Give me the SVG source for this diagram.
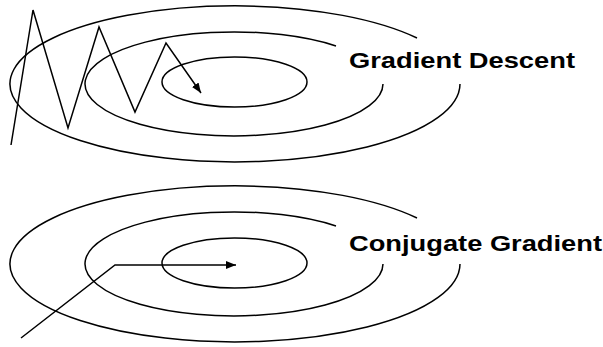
<svg xmlns="http://www.w3.org/2000/svg" width="603" height="347" viewBox="0 0 603 347">
<style>
.c{fill:none;stroke:#000;stroke-width:1.5}
.p{fill:none;stroke:#000;stroke-width:1.5;stroke-linejoin:miter}
.t{font-family:"Liberation Sans",Arial,Helvetica,sans-serif;font-weight:bold;font-size:22px;fill:#000}
</style>
<defs>
<marker id="ah" markerUnits="userSpaceOnUse" markerWidth="11" markerHeight="9" refX="10" refY="4" orient="auto" viewBox="0 0 11 9">
<path d="M0,0 L10,4 L0,8 z" fill="#000"/>
</marker>
</defs>
<g id="gd-contours">
<path class="c" d="M460,84 A225,78 0 1 1 417,38"/>
<path class="c" d="M383,84 A149,52 0 1 1 336,46"/>
<ellipse class="c" cx="234.5" cy="82" rx="72.5" ry="25"/>
</g>
<g id="cg-contours">
<path class="c" d="M460,264 A225,78 0 1 1 417,218"/>
<path class="c" d="M383,264 A149,52 0 1 1 336,226"/>
<ellipse class="c" cx="234.5" cy="263" rx="72.5" ry="25"/>
</g>
<g id="connectors">
<path id="gd-path" class="p" d="M11,145 L33,10 L68,128 L99,27 L135,112 L166,43 L201,93" marker-end="url(#ah)"/>
<path id="cg-path" class="p" d="M21,338 L115,265 L236,265" marker-end="url(#ah)"/>
</g>
<g id="gd-label"><text class="t" x="349" y="68" textLength="226" lengthAdjust="spacingAndGlyphs">Gradient Descent</text></g>
<g id="cg-label"><text class="t" x="349" y="251" textLength="253" lengthAdjust="spacingAndGlyphs">Conjugate Gradient</text></g>
</svg>
